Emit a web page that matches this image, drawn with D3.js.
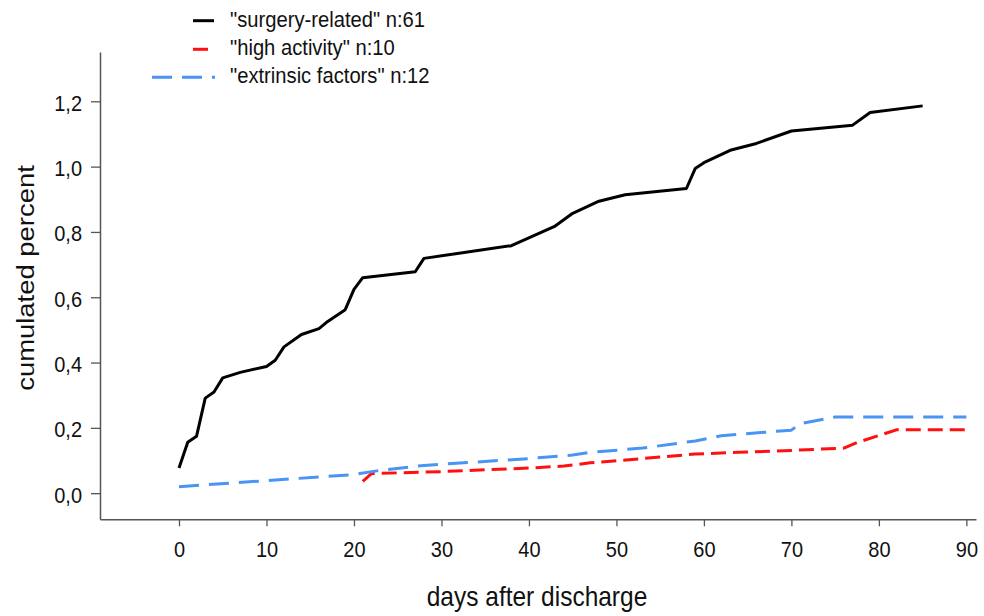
<!DOCTYPE html>
<html>
<head>
<meta charset="utf-8">
<script src="https://cdn.jsdelivr.net/npm/d3@7"></script>
<style>
  html, body { margin: 0; padding: 0; background: #ffffff; }
  svg { display: block; font-family: "Liberation Sans", Arial, sans-serif; }
</style>
</head>
<body>
<svg id="chart" width="984" height="616"></svg>
<script>
// Cumulated readmission percent by cause, per day after discharge
const surgeryDays = [0, 1, 2, 3, 4, 5, 7, 10, 11, 12, 14, 16, 17, 19, 20, 21, 27, 28, 38, 43, 45, 48, 51, 58, 59, 60, 63, 66, 70, 77, 79, 85];
const surgeryValues = [0.077, 0.156, 0.174, 0.291, 0.31, 0.353, 0.37, 0.388, 0.407, 0.448, 0.486, 0.504, 0.526, 0.562, 0.624, 0.66, 0.678, 0.719, 0.758, 0.818, 0.857, 0.894, 0.914, 0.933, 0.994, 1.012, 1.05, 1.071, 1.109, 1.127, 1.166, 1.186];

const activityDays = [21, 22, 30, 40, 44, 47, 53, 59, 64, 70, 76, 77.5, 82, 90];
const activityValues = [0.036, 0.06, 0.066, 0.077, 0.083, 0.093, 0.106, 0.12, 0.125, 0.131, 0.138, 0.155, 0.194, 0.194];

const extrinsicDays = [0, 20, 23, 28, 40, 45, 47, 53, 59, 62, 70, 71, 75, 90];
const extrinsicValues = [0.02, 0.057, 0.07, 0.085, 0.106, 0.117, 0.125, 0.138, 0.16, 0.176, 0.193, 0.213, 0.233, 0.233];

const seriesNames = ['"surgery-related" n:61', '"high activity" n:10', '"extrinsic factors" n:12'];
const xTicks = [0, 10, 20, 30, 40, 50, 60, 70, 80, 90];
const yTicks = [0, 0.2, 0.4, 0.6, 0.8, 1.0, 1.2];
const xTitle = "days after discharge";
const yTitle = "cumulated percent";

const svg = d3.select("#chart");
const stretch = 1.12; // glyphs are drawn slightly taller than wide

const x = d3.scaleLinear().domain([-9.03, 91.1]).range([100, 976]);
const y = d3.scaleLinear().domain([-0.08, 1.351]).range([519.3, 52]);

const axisColor = "#555";

// x axis
const gx = svg.append("g").attr("transform", `translate(0,${y(-0.08)})`)
  .call(d3.axisBottom(x).tickValues(xTicks).tickSizeOuter(0).tickSizeInner(7).tickFormat(d3.format("d")));
gx.select(".domain").attr("stroke", axisColor).attr("stroke-width", 1.5);
gx.selectAll(".tick line").attr("stroke", axisColor).attr("stroke-width", 1.3);
gx.selectAll(".tick text")
  .attr("y", 0).attr("dy", 0)
  .attr("transform", `translate(0,37.4) scale(1,${stretch})`)
  .attr("font-size", 20).attr("fill", "#111")
  .attr("font-family", '"Liberation Sans", Arial, sans-serif');

// y axis
const gy = svg.append("g").attr("transform", `translate(${x(-9.03)},0)`)
  .call(d3.axisLeft(y).tickValues(yTicks).tickSizeOuter(0).tickSizeInner(9)
    .tickFormat(d => d3.format(".1f")(d).replace(".", ",")));
gy.select(".domain").attr("stroke", axisColor).attr("stroke-width", 1.5);
gy.selectAll(".tick line").attr("stroke", axisColor).attr("stroke-width", 1.3);
gy.selectAll(".tick text")
  .attr("x", 0).attr("dy", 0)
  .attr("transform", `translate(-18,9) scale(1,${stretch})`)
  .attr("font-size", 20).attr("fill", "#111")
  .attr("font-family", '"Liberation Sans", Arial, sans-serif');

// axis titles
svg.append("text")
  .attr("transform", `translate(537,606) scale(1,${stretch})`)
  .attr("text-anchor", "middle").attr("font-size", 24.5).attr("fill", "#111")
  .text(xTitle);
svg.append("text")
  .attr("transform", `translate(34,278) scale(1,${stretch}) rotate(-90)`)
  .attr("text-anchor", "middle").attr("font-size", 24.5).attr("fill", "#111")
  .text(yTitle);

// series lines
const line = d3.line().x(d => x(d[0])).y(d => y(d[1]));
const zip = (a, b) => a.map((v, i) => [v, b[i]]);

const series = [
  { days: surgeryDays, values: surgeryValues, color: "#000000", dash: null },
  { days: activityDays, values: activityValues, color: "#ff1010", dash: "15,7" },
  { days: extrinsicDays, values: extrinsicValues, color: "#4a94f4", dash: "20,10" }
];

series.forEach(s => {
  svg.append("path")
    .attr("d", line(zip(s.days, s.values)))
    .attr("fill", "none")
    .attr("stroke", s.color)
    .attr("stroke-width", 3)
    .attr("stroke-linejoin", "round")
    .attr("stroke-dasharray", s.dash);
});

// legend
const legendRows = [
  { y: 20.7, x1: 193, x2: 214, base: 26.7 },
  { y: 49.3, x1: 193, x2: 208, base: 55 },
  { y: 77.3, x1: 152, x2: 215, base: 82.7 }
];
legendRows.forEach((r, i) => {
  svg.append("line")
    .attr("x1", r.x1).attr("x2", r.x2).attr("y1", r.y).attr("y2", r.y)
    .attr("stroke", series[i].color).attr("stroke-width", 3)
    .attr("stroke-dasharray", series[i].dash);
  svg.append("text")
    .attr("transform", `translate(230,${r.base}) scale(1,${stretch})`)
    .attr("font-size", 20.2).attr("fill", "#111")
    .text(seriesNames[i]);
});
</script>
</body>
</html>
